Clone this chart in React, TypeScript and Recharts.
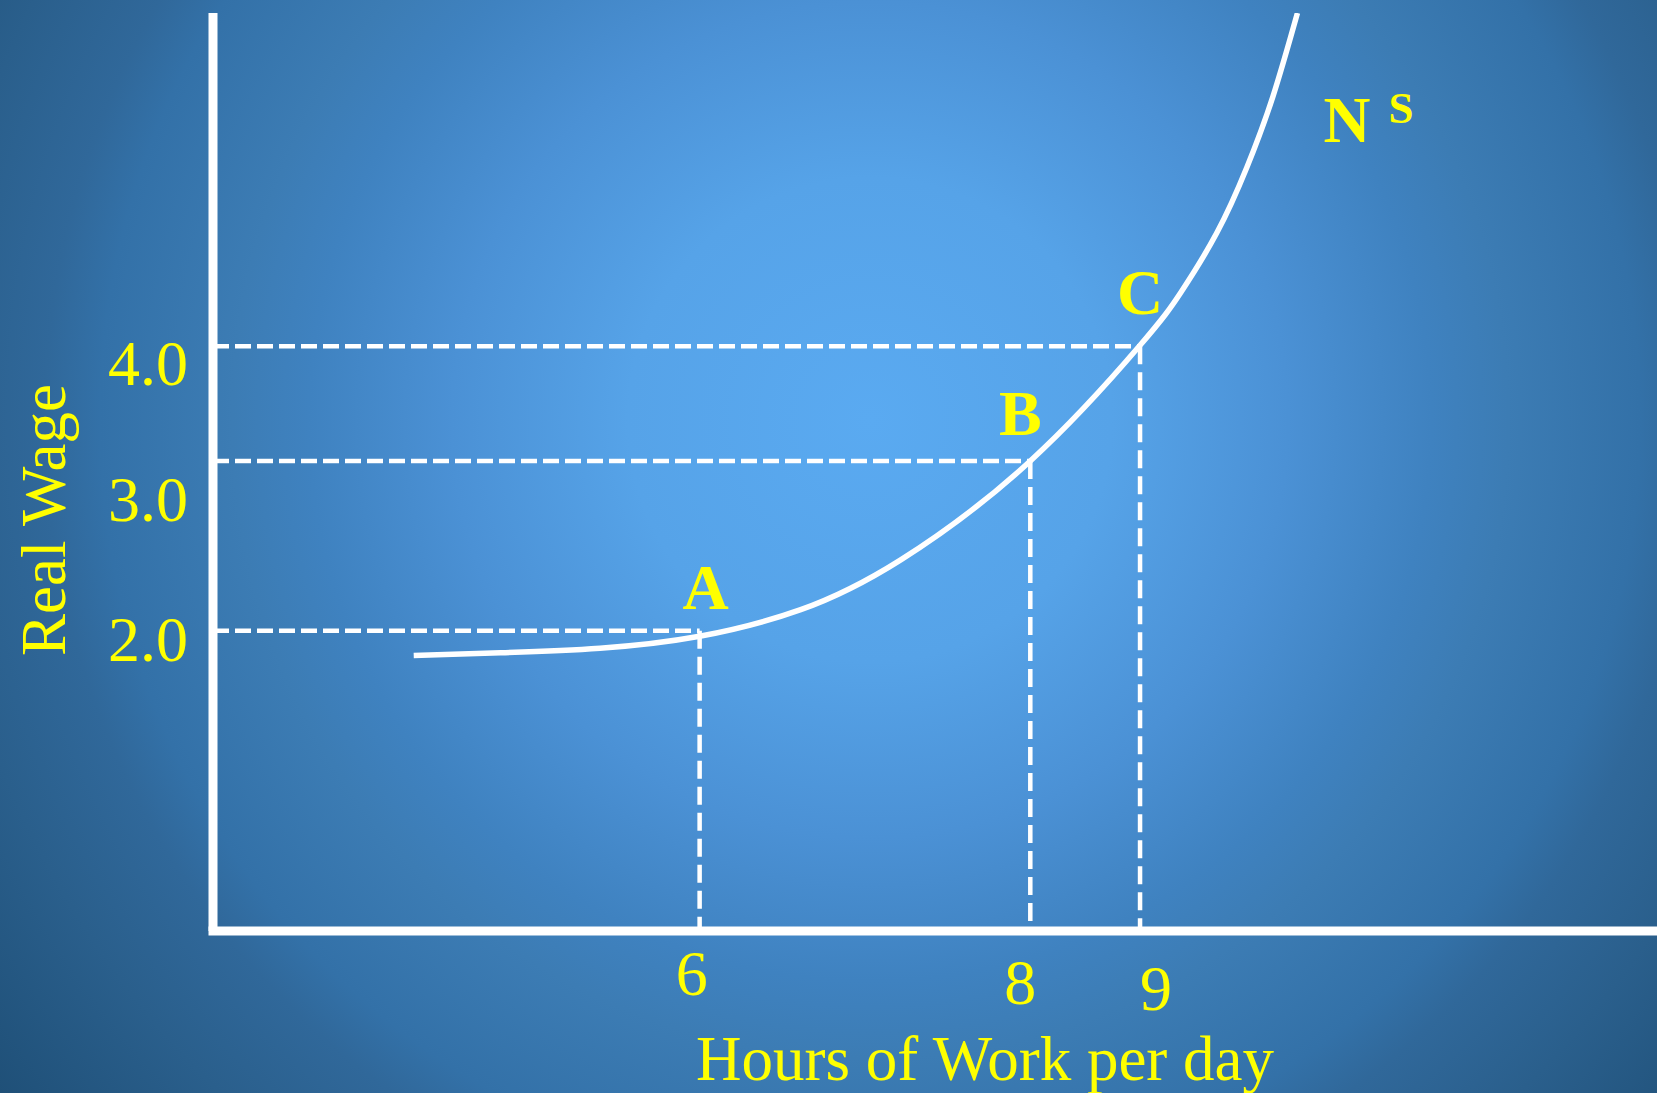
import React from 'react';
import {
  ComposedChart,
  Line,
  Scatter,
  XAxis,
  YAxis,
  ReferenceLine,
  ReferenceDot,
} from 'recharts';

// The original is a hand-drawn schematic: neither axis is to scale, so both run on a
// 0-100 drawing range and the hour / wage ticks sit where they were drawn.
const hourTicks = [33.7, 56.6, 64.2];
const hourLabels = ['6', '8', '9'];
const wageTicks = [32.7, 51.2, 63.7];
const wageLabels = ['2.0', '3.0', '4.0'];
const pointNames = ['A', 'B', 'C'];

// labour supply curve N^S (drawing units)
const curveX = [13.9, 19.9, 26.8, 33.7, 40.7, 47.6, 56.6, 64.2, 67.0, 69.5, 71.6, 73.4, 75.1];
const curveY = [30.0, 30.3, 30.8, 32.1, 35.0, 40.4, 51.2, 63.8, 69.5, 76.0, 83.2, 90.9, 100.0];

const curve = curveX.map((x, i) => ({ x, y: curveY[i] }));
const points = pointNames.map((name, i) => ({ name, x: hourTicks[i], y: wageTicks[i] }));

const W = 1657;
const H = 1093;
const YELLOW = '#ffff00';
const SERIF = '"Liberation Serif", "Times New Roman", serif';
const BG =
  'radial-gradient(circle farthest-corner at 870px 420px, #5aaaf1 0%, #56a3e8 22%, #4b91d5 38%, #3f82c0 51%, #3c7cb4 58%, #3371a8 70%, #30689a 75%, #2a5f8c 85%, #1f5078 100%)';

// label nudges in px, the labels in the slide were placed by hand
const hourTickNudge: Record<string, [number, number]> = { '6': [-8, 64], '8': [-10, 73], '9': [16, 79] };
const wageTickNudge: Record<string, number> = { '2.0': 30, '3.0': 60, '4.0': 39 };
const pointNudge: Record<string, [number, number]> = { A: [6, -22], B: [-10, -26], C: [0, -32] };

const renderHourTick = (props: any) => {
  const { x, y, payload } = props;
  const label = hourLabels[hourTicks.indexOf(payload.value)];
  const [dx, dy] = hourTickNudge[label] || [0, 64];
  return (
    <text x={x + dx} y={y + dy} textAnchor="middle" fill={YELLOW} fontFamily={SERIF} fontSize={64}>
      {label}
    </text>
  );
};

const renderWageTick = (props: any) => {
  const { x, y, payload } = props;
  const label = wageLabels[wageTicks.indexOf(payload.value)];
  return (
    <text x={x - 25} y={y + (wageTickNudge[label] ?? 30)} textAnchor="end" fill={YELLOW} fontFamily={SERIF} fontSize={64}>
      {label}
    </text>
  );
};

const XTitle = ({ viewBox }: any) => (
  <text
    x={viewBox.x + viewBox.width / 2 + 50}
    y={viewBox.y + 149}
    textAnchor="middle"
    fill={YELLOW}
    fontFamily={SERIF}
    fontSize={63}
  >
    Hours of Work per day
  </text>
);

const YTitle = ({ viewBox }: any) => {
  const tx = viewBox.x - 28;
  const ty = viewBox.y + viewBox.height / 2 + 48;
  return (
    <text
      x={tx}
      y={ty}
      transform={`rotate(-90 ${tx} ${ty})`}
      textAnchor="middle"
      fill={YELLOW}
      fontFamily={SERIF}
      fontSize={63}
    >
      Real Wage
    </text>
  );
};

const renderPointLabel = (props: any) => {
  const { cx, cy, payload } = props;
  const [dx, dy] = pointNudge[payload.name] || [0, -24];
  return (
    <text x={cx + dx} y={cy + dy} textAnchor="middle" fill={YELLOW} fontFamily={SERIF} fontWeight="bold" fontSize={64}>
      {payload.name}
    </text>
  );
};

const SupplyLabel = ({ viewBox }: any) => (
  <text x={viewBox.x} y={viewBox.y} fill={YELLOW} fontFamily={SERIF} fontWeight="bold" fontSize={65}>
    <tspan>N</tspan>
    <tspan dx={18} dy={-19} fontSize={45}>S</tspan>
  </text>
);

const xAxisLine = { stroke: '#ffffff', strokeWidth: 9, strokeLinecap: 'square' as const };
const yAxisLine = { stroke: '#ffffff', strokeWidth: 9 };

export default function App() {
  return (
    <div
      style={{
        position: 'absolute',
        left: 0,
        top: 0,
        width: W,
        height: H,
        overflow: 'hidden',
        background: BG,
      }}
    >
      <ComposedChart width={W} height={H} margin={{ top: 13, right: 0, bottom: 102, left: 93 }}>
        <XAxis
          type="number"
          dataKey="x"
          domain={[0, 100]}
          ticks={hourTicks}
          interval={0}
          height={60}
          axisLine={xAxisLine}
          tickLine={false}
          tickSize={0}
          tickMargin={0}
          tick={renderHourTick}
          allowDataOverflow
          label={{ content: XTitle }}
        />
        <YAxis
          type="number"
          dataKey="y"
          domain={[0, 100]}
          ticks={wageTicks}
          interval={0}
          width={120}
          axisLine={yAxisLine}
          tickLine={false}
          tickSize={0}
          tickMargin={0}
          tick={renderWageTick}
          allowDataOverflow
          label={{ content: YTitle }}
        />

        {points.map((p) => (
          <ReferenceLine
            key={`h-${p.name}`}
            segment={[{ x: 0, y: p.y }, { x: p.x, y: p.y }]}
            stroke="#ffffff"
            strokeWidth={4.5}
            strokeDasharray="16 6"
          />
        ))}
        {points.map((p) => (
          <ReferenceLine
            key={`v-${p.name}`}
            segment={[{ x: p.x, y: p.y }, { x: p.x, y: 0 }]}
            stroke="#ffffff"
            strokeWidth={4.5}
            strokeDasharray="18 8"
          />
        ))}

        <Line
          data={curve}
          dataKey="y"
          type="natural"
          stroke="#ffffff"
          strokeWidth={5.5}
          dot={false}
          activeDot={false}
          isAnimationActive={false}
        />
        <Scatter data={points} dataKey="y" shape={renderPointLabel} isAnimationActive={false} />
        <ReferenceDot x={76.9} y={86.0} r={0} fill="none" stroke="none" label={{ content: SupplyLabel }} />
      </ComposedChart>
    </div>
  );
}
